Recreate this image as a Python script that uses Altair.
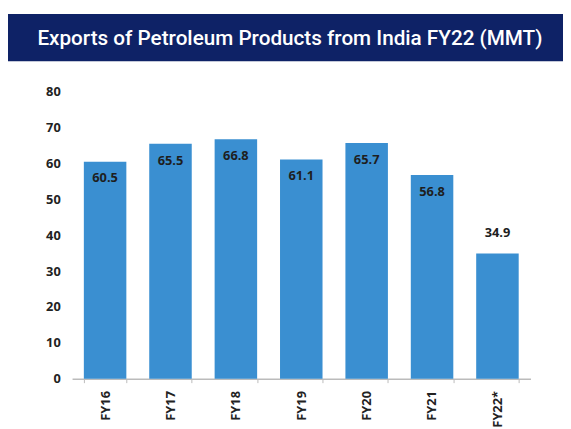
import altair as alt
import pandas as pd

years = ["FY16", "FY17", "FY18", "FY19", "FY20", "FY21", "FY22*"]
exports = [60.5, 65.5, 66.8, 61.1, 65.7, 56.8, 34.9]
title_text = "Exports of Petroleum Products from India FY22 (MMT)"

df = pd.DataFrame({"year": years, "value": exports})

W, H = 465, 291

x = alt.X("year:N", sort=years, title=None,
          scale=alt.Scale(paddingInner=0.35, paddingOuter=0.18),
          axis=alt.Axis(labelAngle=-90, labelAlign="right", labelBaseline="middle",
                        labelFont="Open Sans", labelFontWeight="bold", labelFontSize=13,
                        labelColor="#222222", labelPadding=8, tickBand="extent",
                        domainColor="#bbbbbb", tickColor="#bbbbbb", tickSize=4,
                        domainWidth=1.5))
y = alt.Y("value:Q", title=None,
          scale=alt.Scale(domain=[0, 80]),
          axis=alt.Axis(values=list(range(0, 81, 10)), grid=False, domain=False,
                        ticks=False, labelFont="Open Sans", labelFontWeight="bold",
                        labelFontSize=13, labelColor="#222222", labelPadding=12))

base = alt.Chart(df)

bars = base.mark_bar(color="#3a8fd1").encode(x=x, y=y)

inside = base.transform_filter(alt.datum.year != "FY22*").mark_text(
    baseline="top", dy=11, font="Open Sans", fontWeight="bold", fontSize=13,
    color="#1e1e1e").encode(x=x, y=y, text=alt.Text("value:Q", format=".1f"))

outside = base.transform_filter(alt.datum.year == "FY22*").mark_text(
    baseline="bottom", dy=-14, font="Open Sans", fontWeight="bold", fontSize=13,
    color="#1e1e1e").encode(x=x, y=y, text=alt.Text("value:Q", format=".1f"))

banner_df = pd.DataFrame({"t": [title_text]})
banner = alt.Chart(banner_df).mark_rect(color="#0e2266").encode(
    x=alt.value(-65), x2=alt.value(500), y=alt.value(-79), y2=alt.value(-31))
banner_text = alt.Chart(banner_df).mark_text(
    color="white", font="Roboto", fontWeight=500, fontSize=21,
    align="center", baseline="middle").encode(
    x=alt.value(221), y=alt.value(-54), text="t:N")

chart = alt.layer(bars, inside, outside, banner, banner_text).properties(
    width=W, height=H,
    background="white",
    autosize=alt.AutoSizeParams(type="none"),
    padding={"left": 65, "top": 82, "right": 33, "bottom": 48},
).configure_view(strokeWidth=0, stroke="transparent")

chart.save("out.html", embed_options={"renderer": "svg", "actions": False})
